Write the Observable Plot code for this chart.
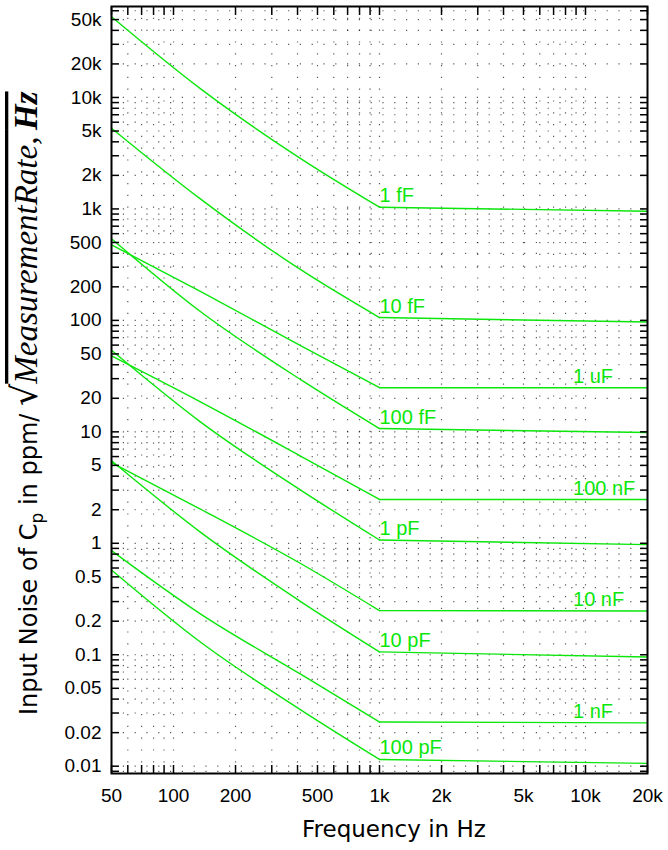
<!DOCTYPE html>
<html><head><meta charset="utf-8">
<script src="https://cdn.jsdelivr.net/npm/d3@7"></script>
<script src="https://cdn.jsdelivr.net/npm/@observablehq/plot@0.6"></script>
<style>html,body{margin:0;padding:0;background:#fff}</style>
</head><body><div id="chart"></div>
<script>
// ---- data ----
const freqHz = [50, 135, 418, 1000, 20000];
const seriesNames = ["1 fF", "10 fF", "100 fF", "1 pF", "10 pF", "100 pF", "1 uF", "100 nF", "10 nF", "1 nF"];
const noise1fF   = [53000, 12000, 2800, 1036, 953];
const noise10fF  = [5300, 1230, 282, 106, 96.6];
const noise100fF = [540, 120, 29.1, 10.7, 9.86];
const noise1pF   = [54, 12.3, 2.97, 1.07, 0.973];
const noise10pF  = [5.5, 1.26, 0.297, 0.106, 0.0954];
const noise100pF = [0.576, 0.13, 0.0317, 0.0115, 0.0106];
const noise1uF   = [476, 182, 58.8, 24.9, 24.9];
const noise100nF = [48, 18.6, 6.0, 2.47, 2.47];
const noise10nF  = [5.3, 2.03, 0.652, 0.249, 0.247];
const noise1nF   = [0.86, 0.233, 0.0662, 0.0249, 0.0245];
const seriesValues = [noise1fF, noise10fF, noise100fF, noise1pF, noise10pF, noise100pF, noise1uF, noise100nF, noise10nF, noise1nF];
const labelFreq  = [1000, 1000, 1000, 1000, 1000, 1000, 8700, 8700, 8700, 8700];
const labelValue = [1036, 106, 10.7, 1.07, 0.106, 0.0115, 24.9, 2.47, 0.248, 0.0246];
const kneeHz = 1000;

const xTickValues = [50, 100, 200, 500, 1000, 2000, 5000, 10000, 20000];
const xTickLabels = ["50", "100", "200", "500", "1k", "2k", "5k", "10k", "20k"];
const yTickValues = [0.01, 0.02, 0.05, 0.1, 0.2, 0.5, 1, 2, 5, 10, 20, 50, 100, 200, 500, 1000, 2000, 5000, 10000, 20000, 50000];
const yTickLabels = ["0.01", "0.02", "0.05", "0.1", "0.2", "0.5", "1", "2", "5", "10", "20", "50", "100", "200", "500", "1k", "2k", "5k", "10k", "20k", "50k"];
const xDomain = [50, 20000];
const yDomain = [0.0086, 65500];

// ---- build tables ----
const lineRows = [];
seriesNames.forEach((n, i) => freqHz.forEach((f, j) => lineRows.push({name: n, f, v: seriesValues[i][j]})));
const lowRows = lineRows.filter(d => d.f <= kneeHz);
const highRows = lineRows.filter(d => d.f >= kneeHz);
const labelRows = seriesNames.map((n, i) => ({name: n, f: labelFreq[i], v: labelValue[i]}));
const xTickRows = xTickValues.map((v, i) => ({v, t: xTickLabels[i]}));
const yTickRows = yTickValues.map((v, i) => ({v, t: yTickLabels[i]}));

function minorTicks([lo, hi]) {
  const out = [];
  for (let e = Math.floor(Math.log10(lo)); e <= Math.ceil(Math.log10(hi)); e++)
    for (let m = 1; m <= 9; m++) { const v = +(m * Math.pow(10, e)).toPrecision(6); if (v >= lo && v <= hi) out.push(v); }
  return out;
}
const xMinor = minorTicks(xDomain);
const yMinor = minorTicks(yDomain);
const green = "#0be60b";
const tickFont = "'Liberation Sans', Arial, Helvetica, sans-serif";

const chart = Plot.plot({
  width: 668, height: 850,
  marginLeft: 111, marginRight: 21, marginTop: 6, marginBottom: 77,
  style: {fontFamily: tickFont, fontSize: "19px", background: "#fff", color: "#000"},
  x: {type: "log", domain: xDomain},
  y: {type: "log", domain: yDomain},
  marks: [
    Plot.ruleY(yMinor, {stroke: "#000", strokeWidth: 1.2, strokeDasharray: "1.2,10.6", strokeOpacity: 0.65}),
    Plot.ruleX(xMinor, {stroke: "#000", strokeWidth: 1.2, strokeDasharray: "1.2,10.6", strokeOpacity: 0.65}),
    Plot.line(lowRows, {x: "f", y: "v", z: "name", stroke: green, strokeWidth: 1.4, curve: "monotone-x"}),
    Plot.line(highRows, {x: "f", y: "v", z: "name", stroke: green, strokeWidth: 1.4, curve: "linear"}),
    Plot.text(labelRows, {x: "f", y: "v", text: "name", fill: green, fontSize: 20, textAnchor: "start", lineAnchor: "bottom", dy: -5}),
    Plot.axisY({ticks: yMinor, anchor: "left", tickSize: 8, dx: 8, tickFormat: () => "", label: null, strokeWidth: 1.5}),
    Plot.axisY({ticks: yMinor, anchor: "right", tickSize: 8, dx: -8, tickFormat: () => "", label: null, strokeWidth: 1.5}),
    Plot.axisX({ticks: xMinor, anchor: "bottom", tickSize: 8, dy: -8, tickFormat: () => "", label: null, strokeWidth: 1.5}),
    Plot.axisX({ticks: xMinor, anchor: "top", tickSize: 8, dy: 8, tickFormat: () => "", label: null, strokeWidth: 1.5}),
    Plot.text(yTickRows, {y: "v", text: "t", frameAnchor: "left", textAnchor: "end", dx: -10, fontSize: 19, fill: "#000"}),
    Plot.text(xTickRows, {x: "v", text: "t", frameAnchor: "bottom", textAnchor: "middle", lineAnchor: "top", dy: 15, fontSize: 19, fill: "#000"}),
    Plot.frame({stroke: "#000", strokeWidth: 2})
  ]
});
document.getElementById("chart").appendChild(chart);

const svg = d3.select(chart);
svg.append("text")
  .attr("x", 302).attr("y", 837)
  .attr("font-family", "'DejaVu Sans', Verdana, sans-serif").attr("font-size", 23)
  .attr("fill", "#000").attr("text-anchor", "start")
  .text("Frequency in Hz");

const yl = svg.append("text")
  .attr("transform", "translate(37,715) rotate(-90)")
  .attr("text-anchor", "start").attr("fill", "#000");
yl.append("tspan").attr("font-family", "'DejaVu Sans', Verdana, sans-serif").attr("font-size", 24).text("Input Noise of C");
yl.append("tspan").attr("font-family", "'DejaVu Sans', Verdana, sans-serif").attr("font-size", 17).attr("dy", 6).text("p");
yl.append("tspan").attr("font-family", "'DejaVu Sans', Verdana, sans-serif").attr("font-size", 24).attr("dy", -6).text("\u00a0in ppm/\u00a0");
yl.append("tspan").attr("font-family", "'DejaVu Serif', serif").attr("font-size", 35).text("\u221a");
const m = yl.append("tspan").attr("text-decoration", "overline");
m.append("tspan").attr("font-family", "'Liberation Serif', 'Times New Roman', serif").attr("font-style", "italic").attr("font-size", 33).text("MeasurementRate,\u2009");
m.append("tspan").attr("font-family", "'Liberation Serif', 'Times New Roman', serif").attr("font-style", "italic").attr("font-weight", "bold").attr("font-size", 33).text("Hz");
</script></body></html>
